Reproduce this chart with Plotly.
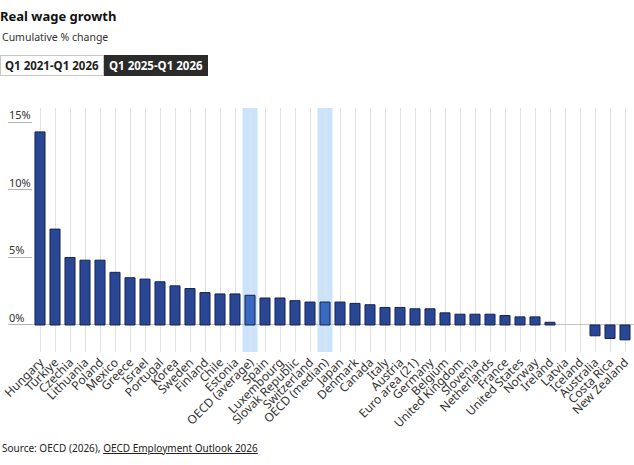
import plotly.graph_objects as go

countries = ["Hungary", "Türkiye", "Czechia", "Lithuania", "Poland", "Mexico", "Greece", "Israel",
             "Portugal", "Korea", "Sweden", "Finland", "Chile", "Estonia", "OECD (average)", "Spain",
             "Luxembourg", "Slovak Republic", "Switzerland", "OECD (median)", "Japan", "Denmark",
             "Canada", "Italy", "Austria", "Euro area (21)", "Germany", "Belgium", "United Kingdom",
             "Slovenia", "Netherlands", "France", "United States", "Norway", "Ireland", "Latvia",
             "Iceland", "Australia", "Costa Rica", "New Zealand"]
growth = [14.3, 7.1, 5.0, 4.8, 4.8, 3.9, 3.5, 3.4, 3.2, 2.9, 2.7, 2.4, 2.3, 2.3, 2.2, 2.0,
          2.0, 1.8, 1.7, 1.7, 1.7, 1.6, 1.5, 1.3, 1.3, 1.2, 1.2, 0.9, 0.8, 0.8, 0.8, 0.7,
          0.6, 0.6, 0.2, None, None, -0.8, -1.0, -1.1]
highlight = ["OECD (average)", "OECD (median)"]
y_ticks = [0, 5, 10, 15]
y_tick_labels = ["0%", "5%", "10%", "15%"]

W, H = 634, 465
ML, MR, MT, MB = 8, 0, 108, 113
PW, PH = W - ML - MR, H - MT - MB
STEP = 15.0  # px per category
x_lo = -(40 - ML) / STEP
x_hi = x_lo + PW / STEP
y_lo, y_hi = -2.0, 16.07

def px(xp, yp):
    return (xp - ML) / PW, 1 - (yp - MT) / PH

DARK = "#2a4795"
LIGHT = "#3a69c2"
colors = [LIGHT if c in highlight else DARK for c in countries]

fig = go.Figure()
fig.add_trace(go.Bar(
    x=countries, y=growth,
    marker=dict(color=colors, line=dict(color="#16234f", width=1)),
    hoverinfo="x+y",
))

shapes = []
for c in highlight:
    i = countries.index(c)
    shapes.append(dict(type="rect", xref="x", yref="paper", x0=i - 0.5, x1=i + 0.5, y0=0, y1=1,
                       fillcolor="#cbe3fb", line=dict(width=0), layer="below"))

FONT = "Noto Sans"
annotations = []
lx, _ = px(8, 0)
for v, t in zip(y_ticks, y_tick_labels):
    annotations.append(dict(text=t, x=lx, y=v, xref="paper", yref="y", xanchor="left",
                            yanchor="bottom", showarrow=False, xshift=-1, yshift=-2,
                            font=dict(family=FONT, size=11, color="#333")))
ax, ay = px(0, 37)
annotations.append(dict(text="Cumulative % change", x=ax, y=ay, xref="paper", yref="paper",
                        xanchor="left", yanchor="middle", showarrow=False,
                        font=dict(family=FONT, size=10.5, color="#333")))
bx, by = px(0, 65.5)
annotations.append(dict(text="<b>Q1 2021-Q1 2026</b>", x=bx, y=by, xref="paper", yref="paper",
                        xanchor="left", yanchor="middle", showarrow=False, width=98, height=15,
                        align="center",
                        bgcolor="#ffffff", bordercolor="#c8c8c8", borderwidth=1, borderpad=2,
                        font=dict(family=FONT, size=11.5, color="#222")))
bx2, _ = px(104, 65.5)
annotations.append(dict(text="<b>Q1 2025-Q1 2026</b>", x=bx2, y=by, xref="paper", yref="paper",
                        xanchor="left", yanchor="middle", showarrow=False, width=98, height=15,
                        align="center",
                        bgcolor="#2b2b2b", bordercolor="#2b2b2b", borderwidth=1, borderpad=2,
                        font=dict(family=FONT, size=11.5, color="#ffffff")))
sx, sy = px(0, 448)
annotations.append(dict(text="Source: OECD (2026), <u>OECD Employment Outlook 2026</u>", x=sx, y=sy,
                        xref="paper", yref="paper", xanchor="left", yanchor="middle", showarrow=False,
                        font=dict(family=FONT, size=10, color="#222")))

fig.update_layout(
    width=W, height=H,
    margin=dict(l=ML, r=MR, t=MT, b=MB),
    paper_bgcolor="white", plot_bgcolor="white",
    font=dict(family=FONT, color="#333"),
    title=dict(text="<b>Real wage growth</b>", x=0, xref="container", xanchor="left",
               y=1 - 16 / H, yref="container", yanchor="middle",
               font=dict(family=FONT, size=13, color="#111")),
    bargap=0.33,
    showlegend=False,
    shapes=shapes,
    annotations=annotations,
    xaxis=dict(range=[x_lo, x_hi], tickangle=-45, showgrid=True, gridcolor="#e2e2e2",
               gridwidth=1, ticks="", tickfont=dict(family=FONT, size=12, color="#333"),
               showline=False, zeroline=False, fixedrange=True),
    yaxis=dict(range=[y_lo, y_hi], tickvals=y_ticks, showgrid=False, showticklabels=False,
               zeroline=True, zerolinecolor="#c4c4c4", zerolinewidth=1,
               ticks="inside", ticklen=24, tickcolor="#b5b5b5", tickwidth=1,
               showline=False, fixedrange=True),
)

fig.write_html("out.html")
